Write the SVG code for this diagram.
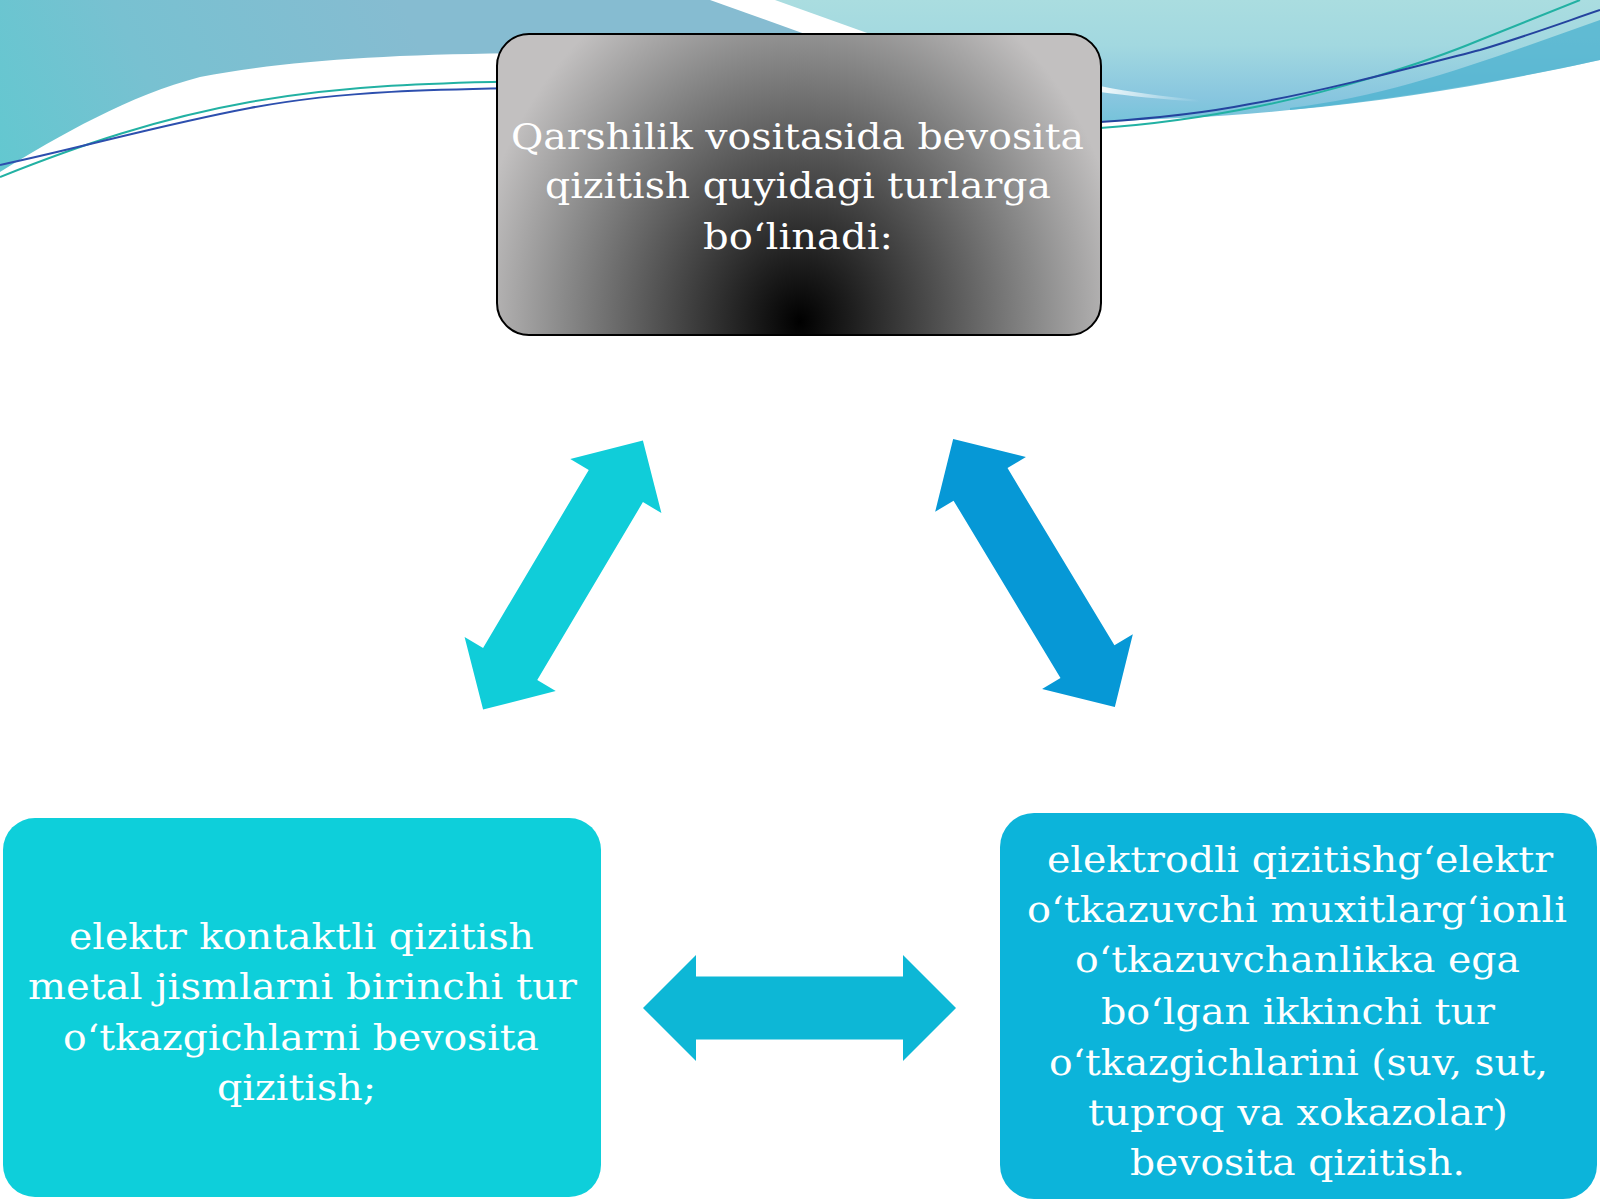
<svg xmlns="http://www.w3.org/2000/svg" width="1600" height="1200" viewBox="0 0 1600 1200">
  <defs>
    <linearGradient id="bgLeft" x1="400" y1="0" x2="0" y2="180" gradientUnits="userSpaceOnUse">
      <stop offset="0" stop-color="#86BCD1"/>
      <stop offset="0.6" stop-color="#78C1D1"/>
      <stop offset="1" stop-color="#62C8D0"/>
    </linearGradient>
    <linearGradient id="bgRight" x1="0" y1="0" x2="0" y2="130" gradientUnits="userSpaceOnUse">
      <stop offset="0" stop-color="#AADDE0"/>
      <stop offset="0.35" stop-color="#A2D8E0"/>
      <stop offset="0.75" stop-color="#88C6DF"/>
      <stop offset="1" stop-color="#70C2D8"/>
    </linearGradient>
    <linearGradient id="streak" x1="1100" y1="0" x2="1200" y2="0" gradientUnits="userSpaceOnUse">
      <stop offset="0" stop-color="#FFFFFF" stop-opacity="0.9"/>
      <stop offset="1" stop-color="#FFFFFF" stop-opacity="0"/>
    </linearGradient>
    <radialGradient id="topFill" gradientUnits="userSpaceOnUse" cx="800" cy="322" r="330" gradientTransform="translate(800 322) scale(1 1.15) translate(-800 -322)">
      <stop offset="0" stop-color="#000000"/>
      <stop offset="0.15" stop-color="#1C1C1C"/>
      <stop offset="0.42" stop-color="#505050"/>
      <stop offset="0.72" stop-color="#8A8A8A"/>
      <stop offset="1" stop-color="#C2C0C0"/>
    </radialGradient>
    <polygon id="dblArrow" points="-156.5,0 -103.5,-53 -103.5,-31.5 103.5,-31.5 103.5,-53 156.5,0 103.5,53 103.5,31.5 -103.5,31.5 -103.5,53"/>
  </defs>
  <style>
    .txt { font-family: "DejaVu Serif", "Liberation Serif", serif; font-size: 35px; fill: #FFFFFF; }
  </style>

  <rect x="0" y="0" width="1600" height="1200" fill="#FFFFFF"/>

  <!-- background waves -->
  <g id="background">
    <path d="M690,0 L1600,0 L1600,60 C1500,82 1330,112 1180,118 L1100,122 L1000,60 L860,40 Z" fill="url(#bgRight)"/>
    <path d="M1290,108 C1400,95 1500,55 1600,20 L1600,60 C1500,82 1400,100 1290,110 Z" fill="#4FB3CF" opacity="0.8"/>
    <path d="M0,0 L712,0 L830,40 L620,40 L620,53 C420,52 300,58 200,77 C130,95 60,135 0,172 Z" fill="url(#bgLeft)"/>
    <path d="M710,0 L775,0 L870,34 L805,34 Z" fill="#FFFFFF"/>
    <path d="M1100,86 C1130,92 1160,96 1200,100 L1200,102 C1160,99 1130,96 1100,92 Z" fill="url(#streak)"/>
    <path d="M0,177 C80,145 160,118 250,102 S420,82 600,80" fill="none" stroke="#22B1A3" stroke-width="2"/>
    <path d="M0,165 C80,148 160,125 250,108 S420,89 600,87" fill="none" stroke="#2D4FAE" stroke-width="2"/>
    <path d="M1100,128 C1160,124 1210,116 1260,106 C1330,92 1420,65 1480,40 C1520,24 1560,8 1580,0" fill="none" stroke="#22B1A3" stroke-width="2"/>
    <path d="M1100,122 C1160,118 1210,112 1250,104 C1320,92 1410,68 1480,50 C1530,35 1570,20 1600,10" fill="none" stroke="#24439E" stroke-width="2"/>
  </g>

  <!-- connectors -->
  <g id="connectors">
    <use href="#dblArrow" transform="translate(563 575) rotate(-59.3)" fill="#10CDD9"/>
    <use href="#dblArrow" transform="translate(1034 573) rotate(58.9)" fill="#0698D6"/>
    <use href="#dblArrow" transform="translate(799.5 1008)" fill="#0DB7D6"/>
  </g>

  <!-- top node -->
  <g id="node-top">
    <rect x="497" y="34" width="604" height="301" rx="32" ry="32" fill="url(#topFill)" stroke="#000000" stroke-width="2"/>
    <text class="txt" x="511" y="149" textLength="573" lengthAdjust="spacingAndGlyphs">Qarshilik vositasida bevosita</text>
    <text class="txt" x="545" y="198" textLength="506" lengthAdjust="spacingAndGlyphs">qizitish quyidagi turlarga</text>
    <text class="txt" x="703" y="249" textLength="190" lengthAdjust="spacingAndGlyphs">bo‘linadi:</text>
  </g>

  <!-- left node -->
  <g id="node-left">
    <rect x="3" y="818" width="598" height="379" rx="32" ry="32" fill="#0ECFDA"/>
    <text class="txt" x="69" y="949" textLength="465" lengthAdjust="spacingAndGlyphs">elektr kontaktli qizitish</text>
    <text class="txt" x="28" y="999" textLength="549" lengthAdjust="spacingAndGlyphs">metal jismlarni birinchi tur</text>
    <text class="txt" x="63" y="1050" textLength="476" lengthAdjust="spacingAndGlyphs">o‘tkazgichlarni bevosita</text>
    <text class="txt" x="217" y="1100" textLength="159" lengthAdjust="spacingAndGlyphs">qizitish;</text>
  </g>

  <!-- right node -->
  <g id="node-right">
    <rect x="1000" y="813" width="597" height="386" rx="34" ry="34" fill="#0CB4DA"/>
    <text class="txt" x="1047" y="872" textLength="506" lengthAdjust="spacingAndGlyphs">elektrodli qizitishg‘elektr</text>
    <text class="txt" x="1027" y="922" textLength="540" lengthAdjust="spacingAndGlyphs">o‘tkazuvchi muxitlarg‘ionli</text>
    <text class="txt" x="1075" y="972" textLength="445" lengthAdjust="spacingAndGlyphs">o‘tkazuvchanlikka ega</text>
    <text class="txt" x="1101" y="1024" textLength="394" lengthAdjust="spacingAndGlyphs">bo‘lgan ikkinchi tur</text>
    <text class="txt" x="1049" y="1075" textLength="499" lengthAdjust="spacingAndGlyphs">o‘tkazgichlarini (suv, sut,</text>
    <text class="txt" x="1088" y="1125" textLength="420" lengthAdjust="spacingAndGlyphs">tuproq va xokazolar)</text>
    <text class="txt" x="1130" y="1175" textLength="335" lengthAdjust="spacingAndGlyphs">bevosita qizitish.</text>
  </g>
</svg>
